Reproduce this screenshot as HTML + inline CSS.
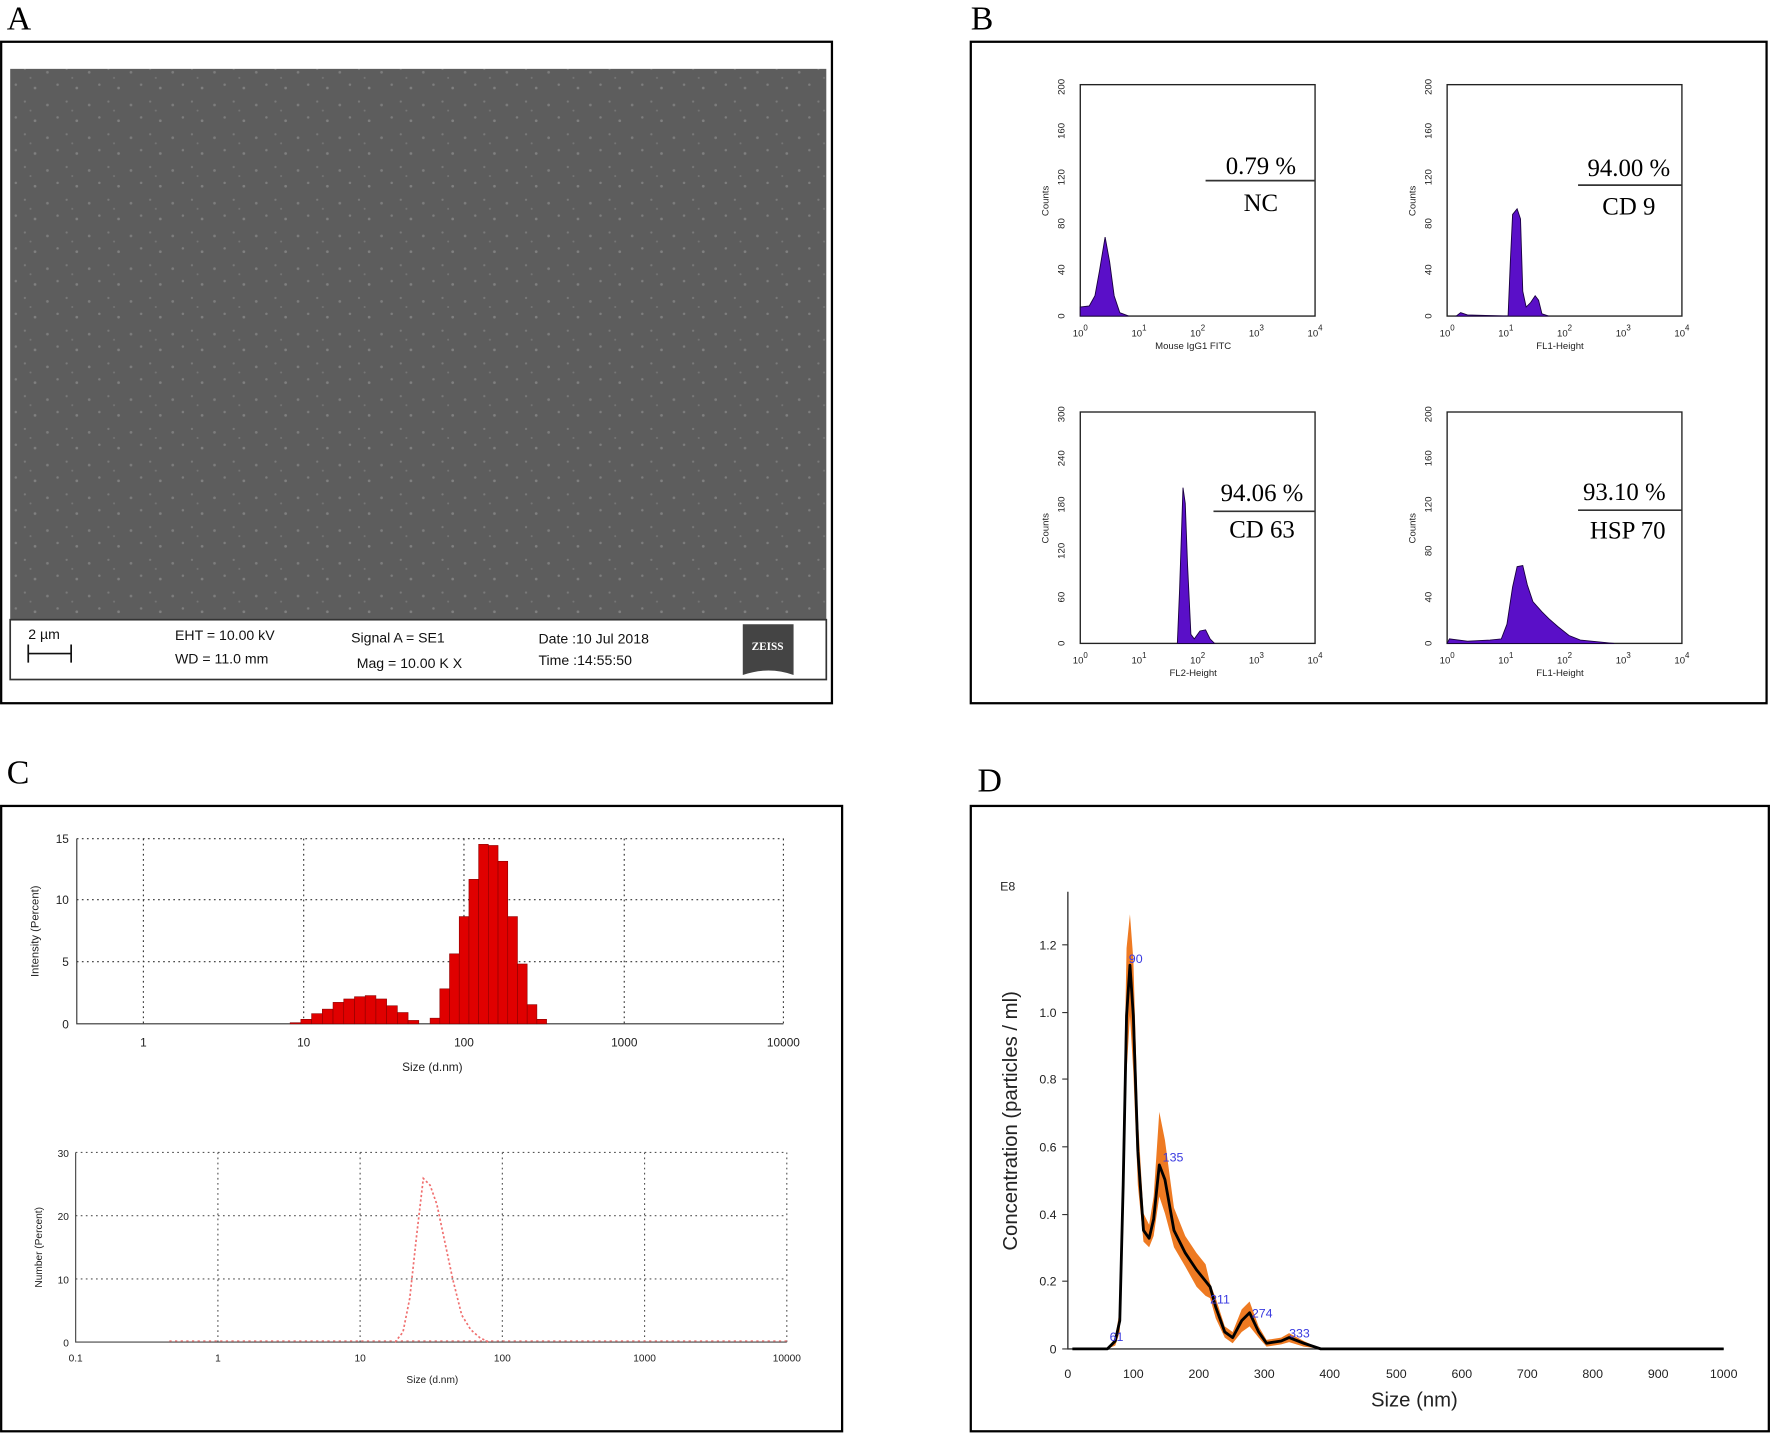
<!DOCTYPE html>
<html><head><meta charset="utf-8"><style>html,body{margin:0;padding:0;background:#fff}svg{display:block}</style></head><body>
<svg width="1770" height="1434" viewBox="0 0 1568 1270.4" xmlns="http://www.w3.org/2000/svg" font-family="Liberation Sans, sans-serif">
<defs>
<pattern id="sem" width="37" height="29" patternUnits="userSpaceOnUse">
<rect width="37" height="29" fill="#5d5d5d"/>
<circle cx="5" cy="6" r="1.2" fill="#7d7d7d"/><circle cx="22" cy="3" r="1" fill="#7a7a7a"/>
<circle cx="14" cy="17" r="1.1" fill="#7e7e7e"/><circle cx="31" cy="20" r="1.2" fill="#808080"/>
<circle cx="27" cy="11" r="0.9" fill="#767676"/>
</pattern>
</defs>
<g font-family="Liberation Serif, serif" font-size="30">
<text x="6" y="26">A</text><text x="860" y="26">B</text><text x="6" y="694">C</text><text x="866" y="701">D</text></g>

<!-- Panel A -->
<rect x="1" y="37" width="736" height="586" fill="#fff" stroke="#000" stroke-width="2"/>
<rect x="9" y="61" width="723" height="488" fill="url(#sem)"/>
<rect x="9" y="549" width="723" height="53" fill="#fff" stroke="#333" stroke-width="1.5"/>
<g font-size="12.5" fill="#111">
<text x="25" y="566">2 µm</text>
<path d="M25 571v16M25 579h38M63 571v16" stroke="#111" stroke-width="1.5" fill="none"/>
<text x="155" y="567">EHT = 10.00 kV</text><text x="155" y="588">WD = 11.0 mm</text>
<text x="311" y="569">Signal A = SE1</text><text x="316" y="592">Mag =   10.00 K X</text>
<text x="477" y="570">Date :10 Jul 2018</text><text x="477" y="589">Time :14:55:50</text></g>
<path d="M658 553h45v45q-22-8-45 0z" fill="#444"/>
<text x="680" y="576" font-size="10" font-weight="bold" fill="#fff" text-anchor="middle" font-family="Liberation Serif, serif">ZEISS</text>

<!-- Panel B -->
<rect x="860" y="37" width="705" height="586" fill="#fff" stroke="#000" stroke-width="2"/>
<g font-size="8.5" fill="#222">
<g stroke="#222" fill="none" stroke-width="1.2">
<rect x="957" y="75" width="208" height="205"/><rect x="1282" y="75" width="208" height="205"/>
<rect x="957" y="365" width="208" height="205"/><rect x="1282" y="365" width="208" height="205"/>
</g>
<g text-anchor="middle">
<g transform="translate(943,0)">
<text transform="translate(0,280) rotate(-90)">0</text><text transform="translate(0,239) rotate(-90)">40</text><text transform="translate(0,198) rotate(-90)">80</text><text transform="translate(0,157) rotate(-90)">120</text><text transform="translate(0,116) rotate(-90)">160</text><text transform="translate(0,77) rotate(-90)">200</text><text transform="translate(-14,178) rotate(-90)">Counts</text></g>
<g transform="translate(1268,0)">
<text transform="translate(0,280) rotate(-90)">0</text><text transform="translate(0,239) rotate(-90)">40</text><text transform="translate(0,198) rotate(-90)">80</text><text transform="translate(0,157) rotate(-90)">120</text><text transform="translate(0,116) rotate(-90)">160</text><text transform="translate(0,77) rotate(-90)">200</text><text transform="translate(-14,178) rotate(-90)">Counts</text></g>
<g transform="translate(943,0)">
<text transform="translate(0,570) rotate(-90)">0</text><text transform="translate(0,529) rotate(-90)">60</text><text transform="translate(0,488) rotate(-90)">120</text><text transform="translate(0,447) rotate(-90)">180</text><text transform="translate(0,406) rotate(-90)">240</text><text transform="translate(0,367) rotate(-90)">300</text><text transform="translate(-14,468) rotate(-90)">Counts</text></g>
<g transform="translate(1268,0)">
<text transform="translate(0,570) rotate(-90)">0</text><text transform="translate(0,529) rotate(-90)">40</text><text transform="translate(0,488) rotate(-90)">80</text><text transform="translate(0,447) rotate(-90)">120</text><text transform="translate(0,406) rotate(-90)">160</text><text transform="translate(0,367) rotate(-90)">200</text><text transform="translate(-14,468) rotate(-90)">Counts</text></g>
</g>
<g text-anchor="middle">
<g transform="translate(957,298)"><text x="0">10<tspan dy="-5" font-size="7">0</tspan></text><text x="52">10<tspan dy="-5" font-size="7">1</tspan></text><text x="104">10<tspan dy="-5" font-size="7">2</tspan></text><text x="156">10<tspan dy="-5" font-size="7">3</tspan></text><text x="208">10<tspan dy="-5" font-size="7">4</tspan></text><text x="100" y="11">Mouse IgG1 FITC</text></g>
<g transform="translate(1282,298)"><text x="0">10<tspan dy="-5" font-size="7">0</tspan></text><text x="52">10<tspan dy="-5" font-size="7">1</tspan></text><text x="104">10<tspan dy="-5" font-size="7">2</tspan></text><text x="156">10<tspan dy="-5" font-size="7">3</tspan></text><text x="208">10<tspan dy="-5" font-size="7">4</tspan></text><text x="100" y="11">FL1-Height</text></g>
<g transform="translate(957,588)"><text x="0">10<tspan dy="-5" font-size="7">0</tspan></text><text x="52">10<tspan dy="-5" font-size="7">1</tspan></text><text x="104">10<tspan dy="-5" font-size="7">2</tspan></text><text x="156">10<tspan dy="-5" font-size="7">3</tspan></text><text x="208">10<tspan dy="-5" font-size="7">4</tspan></text><text x="100" y="11">FL2-Height</text></g>
<g transform="translate(1282,588)"><text x="0">10<tspan dy="-5" font-size="7">0</tspan></text><text x="52">10<tspan dy="-5" font-size="7">1</tspan></text><text x="104">10<tspan dy="-5" font-size="7">2</tspan></text><text x="156">10<tspan dy="-5" font-size="7">3</tspan></text><text x="208">10<tspan dy="-5" font-size="7">4</tspan></text><text x="100" y="11">FL1-Height</text></g>
</g></g>
<g fill="#5a0fc8" stroke="#1a0040" stroke-width="0.8">
<polygon points="957,280 957,272 965,271 970,262 974,240 979,210 983,232 987,262 992,277 1000,280"/>
<polygon points="1290,280 1294,277 1300,279 1336,280 1338,232 1340,190 1344,185 1347,194 1349,258 1352,272 1356,268 1360,262 1363,266 1366,278 1372,280"/>
<polygon points="1043,570 1045,522 1047,462 1048,432 1050,446 1052,500 1055,562 1058,566 1063,559 1068,558 1072,566 1076,570"/>
<polygon points="1282,570 1284,566 1300,568 1320,567 1330,566 1335,553 1340,520 1344,502 1349,501 1353,518 1358,533 1366,542 1372,548 1380,555 1390,563 1400,567 1420,569 1430,570"/>
</g>
<g font-family="Liberation Serif, serif" font-size="22" text-anchor="middle">
<text x="1117" y="154">0.79 %</text><text x="1117" y="187">NC</text>
<text x="1443" y="156">94.00 %</text><text x="1443" y="190">CD 9</text>
<text x="1118" y="444">94.06 %</text><text x="1118" y="476">CD 63</text>
<text x="1439" y="443">93.10 %</text><text x="1442" y="477">HSP 70</text></g>
<g stroke="#333" stroke-width="1.5"><path d="M1068 160H1165M1398 164H1490M1075 453H1165M1398 452H1490"/></g>

<!-- Panel C -->
<rect x="1" y="714" width="745" height="554" fill="#fff" stroke="#000" stroke-width="2"/>
<g stroke="#333" stroke-width="1" stroke-dasharray="1.5,3" fill="none">
<path d="M68 743H694M68 797H694M68 852H694M127 743V907M269 743V907M411 743V907M553 743V907M694 743V907"/>
</g>
<path d="M68 743V907H694" stroke="#333" fill="none"/>
<g fill="#e00000" stroke="#800" stroke-width="0.5">
<rect x="257" y="906" width="9.5" height="1"/><rect x="266.5" y="903" width="9.5" height="4"/><rect x="276" y="898" width="9.5" height="9"/><rect x="285.5" y="894" width="9.5" height="13"/><rect x="295" y="888" width="9.5" height="19"/><rect x="304.5" y="885" width="9.5" height="22"/><rect x="314" y="883" width="9.5" height="24"/><rect x="323.5" y="882" width="9.5" height="25"/><rect x="333" y="885" width="9.5" height="22"/><rect x="342.5" y="891" width="9.5" height="16"/><rect x="352" y="897" width="9.5" height="10"/><rect x="361.5" y="904" width="9.5" height="3"/>
<rect x="381" y="902" width="8.6" height="5"/><rect x="389.6" y="876" width="8.6" height="31"/><rect x="398.2" y="845" width="8.6" height="62"/><rect x="406.8" y="812" width="8.6" height="95"/><rect x="415.4" y="779" width="8.6" height="128"/><rect x="424" y="748" width="8.6" height="159"/><rect x="432.6" y="749" width="8.6" height="158"/><rect x="441.2" y="763" width="8.6" height="144"/><rect x="449.8" y="812" width="8.6" height="95"/><rect x="458.4" y="854" width="8.6" height="53"/><rect x="467" y="890" width="8.6" height="17"/><rect x="475.6" y="903" width="8.6" height="4"/>
</g>
<g font-size="10.5" fill="#222" text-anchor="middle">
<text x="127" y="927">1</text><text x="269" y="927">10</text><text x="411" y="927">100</text><text x="553" y="927">1000</text><text x="694" y="927">10000</text>
<text x="383" y="949">Size (d.nm)</text>
<g text-anchor="end"><text x="61" y="911">0</text><text x="61" y="856">5</text><text x="61" y="801">10</text><text x="61" y="747">15</text></g>
<text transform="translate(34,825) rotate(-90)" font-size="10">Intensity (Percent)</text>
</g>
<g stroke="#555" stroke-width="1" stroke-dasharray="1.5,3" fill="none">
<path d="M67 1021H697M67 1077H697M67 1133H697M193 1021V1189M319 1021V1189M445 1021V1189M571 1021V1189M697 1021V1189"/>
</g>
<path d="M67 1021V1189H697" stroke="#444" fill="none"/>
<path d="M150 1188H697" stroke="#f08080" stroke-width="1.2" stroke-dasharray="2,3"/>
<path d="M350 1189L357 1180 363 1150 369 1095 375 1044 381 1050 387 1067 394 1100 401 1133 409 1165 417 1178 425 1185 433 1189" stroke="#f07070" stroke-width="1.5" stroke-dasharray="2,2" fill="none"/>
<g font-size="9" fill="#222" text-anchor="middle">
<text x="67" y="1206">0.1</text><text x="193" y="1206">1</text><text x="319" y="1206">10</text><text x="445" y="1206">100</text><text x="571" y="1206">1000</text><text x="697" y="1206">10000</text>
<text x="383" y="1225">Size (d.nm)</text>
<g text-anchor="end"><text x="61" y="1193">0</text><text x="61" y="1137">10</text><text x="61" y="1081">20</text><text x="61" y="1025">30</text></g>
<text transform="translate(37,1105) rotate(-90)" font-size="9">Number (Percent)</text>
</g>

<!-- Panel D -->
<rect x="860" y="714" width="707" height="554" fill="#fff" stroke="#000" stroke-width="2"/>
<path d="M946 790V1195H1527" stroke="#333" stroke-width="1.2" fill="none"/>
<g stroke="#333"><path d="M941 1195h5M941 1135h5M941 1076h5M941 1016h5M941 956h5M941 897h5M941 837h5"/></g>
<g font-size="11" fill="#222">
<text x="886" y="789">E8</text>
<g text-anchor="end"><text x="936" y="1199">0</text><text x="936" y="1139">0.2</text><text x="936" y="1080">0.4</text><text x="936" y="1020">0.6</text><text x="936" y="960">0.8</text><text x="936" y="901">1.0</text><text x="936" y="841">1.2</text></g>
<g text-anchor="middle"><text x="946" y="1221">0</text><text x="1004" y="1221">100</text><text x="1062" y="1221">200</text><text x="1120" y="1221">300</text><text x="1178" y="1221">400</text><text x="1237" y="1221">500</text><text x="1295" y="1221">600</text><text x="1353" y="1221">700</text><text x="1411" y="1221">800</text><text x="1469" y="1221">900</text><text x="1527" y="1221">1000</text></g>
</g>
<text x="1253" y="1246" font-size="18" text-anchor="middle" fill="#222">Size (nm)</text>
<text transform="translate(901,993) rotate(-90)" font-size="18" text-anchor="middle" fill="#222">Concentration (particles / ml)</text>
<polygon fill="#ee7a22" points="981,1195 988,1185 992,1160 995,1000 998,840 1001,810 1004,850 1008,990 1013,1075 1018,1085 1022,1060 1027,985 1032,1010 1040,1070 1050,1095 1060,1110 1068,1120 1072,1137 1077,1150 1085,1175 1092,1180 1100,1160 1107,1153 1115,1175 1122,1187 1135,1185 1142,1181 1155,1188 1170,1195 1155,1193 1142,1189 1135,1191 1122,1193 1115,1185 1107,1175 1100,1180 1092,1190 1085,1185 1077,1168 1072,1150 1068,1148 1060,1140 1050,1122 1040,1105 1032,1075 1027,1060 1022,1095 1018,1105 1013,1100 1008,1050 1004,950 1001,900 998,950 995,1090 992,1180 988,1192"/>
<path d="M950 1195L981 1195 988 1188 992 1170 995 1050 998 900 1001 855 1004 900 1008 1020 1013 1090 1018 1097 1022 1080 1027 1032 1032 1045 1040 1090 1050 1110 1060 1125 1068 1135 1072 1140 1077 1158 1085 1180 1092 1185 1100 1170 1107 1163 1115 1180 1122 1190 1135 1188 1142 1185 1155 1190 1170 1195 1527 1195" stroke="#000" stroke-width="2.5" fill="none" stroke-linejoin="round"/>
<g font-size="11" fill="#3a3ae0">
<text x="1000" y="853">90</text><text x="1030" y="1029">135</text><text x="1072" y="1155">211</text><text x="1109" y="1167">274</text><text x="1142" y="1185">333</text><text x="983" y="1188">61</text></g>
</svg>
</body></html>
